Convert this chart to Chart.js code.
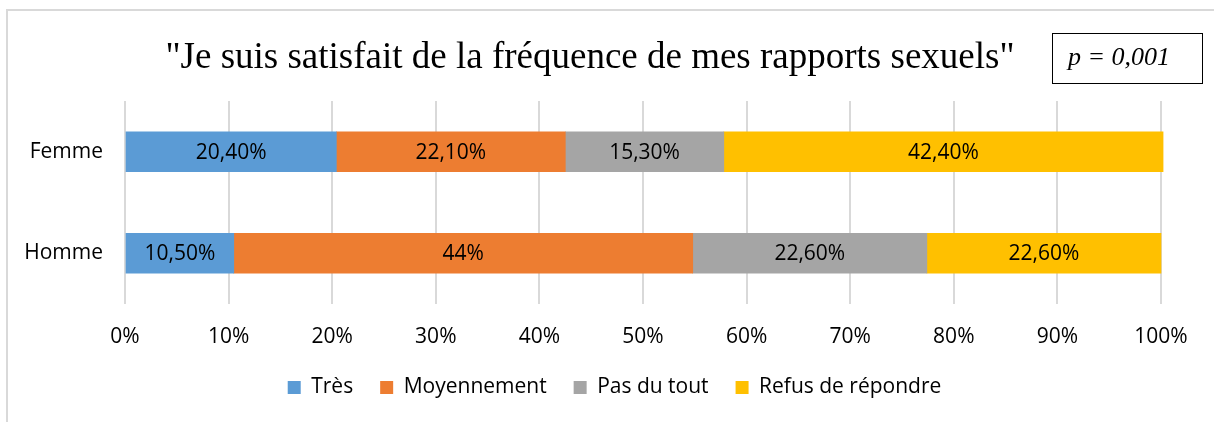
<!DOCTYPE html>
<html><head><meta charset="utf-8">
<script src="https://cdn.jsdelivr.net/npm/chart.js@4/dist/chart.umd.min.js"></script>
<style>html,body{margin:0;padding:0;background:#fff}#wrap{width:1214px;height:422px}</style>
</head><body><div id="wrap"><canvas id="c" width="1214" height="422"></canvas></div>
<script>
const categories = ["Femme", "Homme"];
const seriesNames = ["Très", "Moyennement", "Pas du tout", "Refus de répondre"];
const tres = [20.4, 10.5];
const moyennement = [22.1, 44.3];
const pasDuTout = [15.3, 22.6];
const refus = [42.4, 22.6];
const tresLabels = ["20,40%", "10,50%"];
const moyennementLabels = ["22,10%", "44%"];
const pasDuToutLabels = ["15,30%", "22,60%"];
const refusLabels = ["42,40%", "22,60%"];
const xTicks = [0, 10, 20, 30, 40, 50, 60, 70, 80, 90, 100];
const titleText = '"Je suis satisfait de la fréquence de mes rapports sexuels"';
const pText = "p = 0,001";
const colors = ["#5B9BD5", "#ED7D31", "#A5A5A5", "#FFC000"];

const FONT = "Open Sans";
const FS = 21;

const decor = {
  id: "decor",
  afterLayout(chart) {
    if (chart.legend) { chart.legend.left += 34; chart.legend.right += 34; }
  },
  beforeDraw(chart) {
    const ctx = chart.ctx;
    ctx.save();
    ctx.fillStyle = "#fff";
    ctx.fillRect(0, 0, chart.width, chart.height);
    ctx.strokeStyle = "#d9d9d9";
    ctx.lineWidth = 2;
    ctx.strokeRect(7, 10, 1400, 600);
    ctx.restore();
  },
  afterDraw(chart) {
    const ctx = chart.ctx;
    ctx.save();
    ctx.fillStyle = "#000";
    ctx.font = '37px "Liberation Serif"';
    ctx.textAlign = "center";
    ctx.textBaseline = "middle";
    ctx.fillText(titleText, 590, 58);
    ctx.strokeStyle = "#000";
    ctx.lineWidth = 1;
    ctx.strokeRect(1052.5, 33.5, 150, 50);
    ctx.font = 'italic 26px "Liberation Serif"';
    ctx.textAlign = "left";
    ctx.fillText(pText, 1068, 58);
    ctx.restore();
  }
};

const labelSets = [tresLabels, moyennementLabels, pasDuToutLabels, refusLabels];
const labels = {
  id: "barLabels",
  afterDatasetsDraw(chart) {
    const ctx = chart.ctx;
    ctx.save();
    ctx.font = FS + "px " + FONT;
    ctx.fillStyle = "#000";
    ctx.textAlign = "center";
    ctx.textBaseline = "middle";
    chart.data.datasets.forEach((ds, i) => {
      chart.getDatasetMeta(i).data.forEach((bar, j) => {
        const p = bar.getProps(["x", "y", "base"], true);
        ctx.fillText(labelSets[i][j], (p.x + p.base) / 2, p.y + 1);
      });
    });
    ctx.restore();
  }
};

const series = [tres, moyennement, pasDuTout, refus];
new Chart(document.getElementById("c"), {
  type: "bar",
  data: {
    labels: categories,
    datasets: series.map((d, i) => ({
      label: seriesNames[i], data: d, backgroundColor: colors[i],
      barThickness: 40, clip: false, borderWidth: 0
    }))
  },
  plugins: [decor, labels],
  options: {
    indexAxis: "y",
    responsive: false,
    animation: false,
    layout: { padding: { left: 0, right: 53, top: 101, bottom: 14 } },
    scales: {
      x: {
        stacked: true, min: 0, max: 100,
        afterBuildTicks: s => { s.ticks = xTicks.map(v => ({ value: v })); },
        afterFit: s => { s.height = 46; },
        grid: { color: "#d9d9d9", lineWidth: 2, drawTicks: false },
        border: { display: false },
        ticks: { callback: v => v + "%", padding: 20, color: "#000", font: { family: FONT, size: FS }, maxRotation: 0, autoSkip: false }
      },
      y: {
        stacked: true,
        afterFit: s => { s.width = 125; },
        grid: { display: false, drawTicks: false },
        border: { display: false },
        ticks: { padding: 22, color: "#000", font: { family: FONT, size: FS } }
      }
    },
    plugins: {
      title: { display: false },
      tooltip: { enabled: false },
      legend: {
        position: "bottom",
        labels: { boxWidth: 13, boxHeight: 13, padding: 27, color: "#000", font: { family: FONT, size: FS } }
      }
    }
  }
});
</script></body></html>
